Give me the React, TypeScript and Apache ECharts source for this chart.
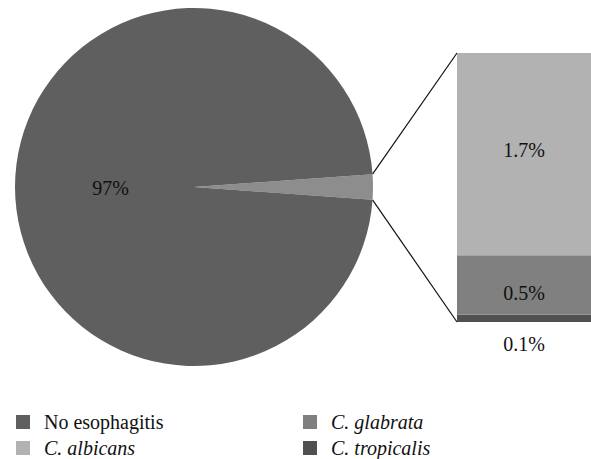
import React, { useEffect, useRef } from "react";
import * as echarts from "echarts";

const pieNames = ["Other", "No esophagitis"];
const mainValue = 97;
const barNames = ["C. tropicalis", "C. glabrata", "C. albicans"];
const barValues = [0.06, 0.5, 1.7];
const legendLeft = ["No esophagitis", "C. albicans"];
const legendRight = ["C. glabrata", "C. tropicalis"];

const FONT = "'Liberation Serif', 'DejaVu Serif', 'Times New Roman', serif";

export default function App() {
  const ref = useRef<HTMLDivElement>(null);
  useEffect(() => {
    if (!ref.current) return;
    const chart = echarts.init(ref.current, null, { renderer: "svg" });
    const other = barValues.reduce((a, b) => a + b, 0);
    const total = other + mainValue;
    const half = (other / total) * 360 / 2;
    const cx = 194, cy = 187, r = 179;
    const gLeft = 457, gTop = 53, gBottom = 322;
    const a = (half * Math.PI) / 180;
    const p1 = [cx + r * Math.cos(a), cy - r * Math.sin(a)];
    const p2 = [cx + r * Math.cos(a), cy + r * Math.sin(a)];
    const barColors = ["#505050", "#7f807f", "#b2b2b2"];
    const rich = {
      n: { fontFamily: FONT, fontSize: 20, lineHeight: 20, color: "#111", padding: [0, 0, 0, 9] },
      i: { fontFamily: FONT, fontSize: 20, lineHeight: 20, fontStyle: "italic", color: "#111", padding: [0, 0, 0, 9] },
    };
    const fmt = (name: string) => (name === "No esophagitis" ? `{n|${name}}` : `{i|${name}}`);
    const legendBase = {
      orient: "vertical",
      top: 412,
      padding: 0,
      itemGap: 6,
      itemWidth: 14,
      itemHeight: 14,
      icon: "rect",
      selectedMode: false,
      formatter: fmt,
      textStyle: { fontFamily: FONT, fontSize: 20, lineHeight: 20, rich },
    };
    chart.setOption({
      animation: false,
      textStyle: { fontFamily: FONT },
      legend: [
        { ...legendBase, left: 16, data: legendLeft },
        { ...legendBase, left: 303, data: legendRight },
      ],
      grid: { left: gLeft, right: 0, top: gTop, bottom: 459 - gBottom },
      xAxis: { type: "category", data: ["bar"], show: false },
      yAxis: { type: "value", min: 0, max: other, show: false },
      series: [
        {
          type: "pie",
          center: [cx, cy],
          radius: [0, r],
          startAngle: half,
          clockwise: true,
          silent: true,
          labelLine: { show: false },
          itemStyle: { borderWidth: 0 },
          labelLayout: { dx: 9, dy: 1 },
          data: [
            { name: pieNames[0], value: other, itemStyle: { color: "#8d8d8d" }, label: { show: false } },
            {
              name: pieNames[1],
              value: mainValue,
              itemStyle: { color: "#5f5f5f" },
              label: {
                show: true,
                position: "inside",
                formatter: "{c}%",
                fontFamily: FONT,
                fontSize: 20,
                color: "#111",
              },
            },
          ],
        },
        ...barNames.map((name, idx) => ({
          type: "bar",
          name,
          stack: "s",
          barWidth: "100%",
          silent: true,
          itemStyle: { color: barColors[idx] },
          label: {
            show: true,
            position: idx === 0 ? "bottom" : "inside",
            distance: 12,
            offset: idx === 1 ? [0, 8] : idx === 2 ? [0, -4] : [0, 0],
            formatter: (p: any) => `${Number(p.value).toFixed(1)}%`,
            fontFamily: FONT,
            fontSize: 20,
            color: "#111",
          },
          data: [barValues[idx]],
        })),
      ],
      graphic: [
        { type: "line", shape: { x1: p1[0], y1: p1[1], x2: gLeft, y2: gTop }, style: { stroke: "#111", lineWidth: 1.2 } },
        { type: "line", shape: { x1: p2[0], y1: p2[1], x2: gLeft, y2: gBottom }, style: { stroke: "#111", lineWidth: 1.2 } },
      ],
    });
    return () => chart.dispose();
  }, []);
  return (
    <div
      ref={ref}
      style={{ position: "fixed", left: 0, top: 0, width: 591, height: 459, background: "#fff" }}
    />
  );
}
